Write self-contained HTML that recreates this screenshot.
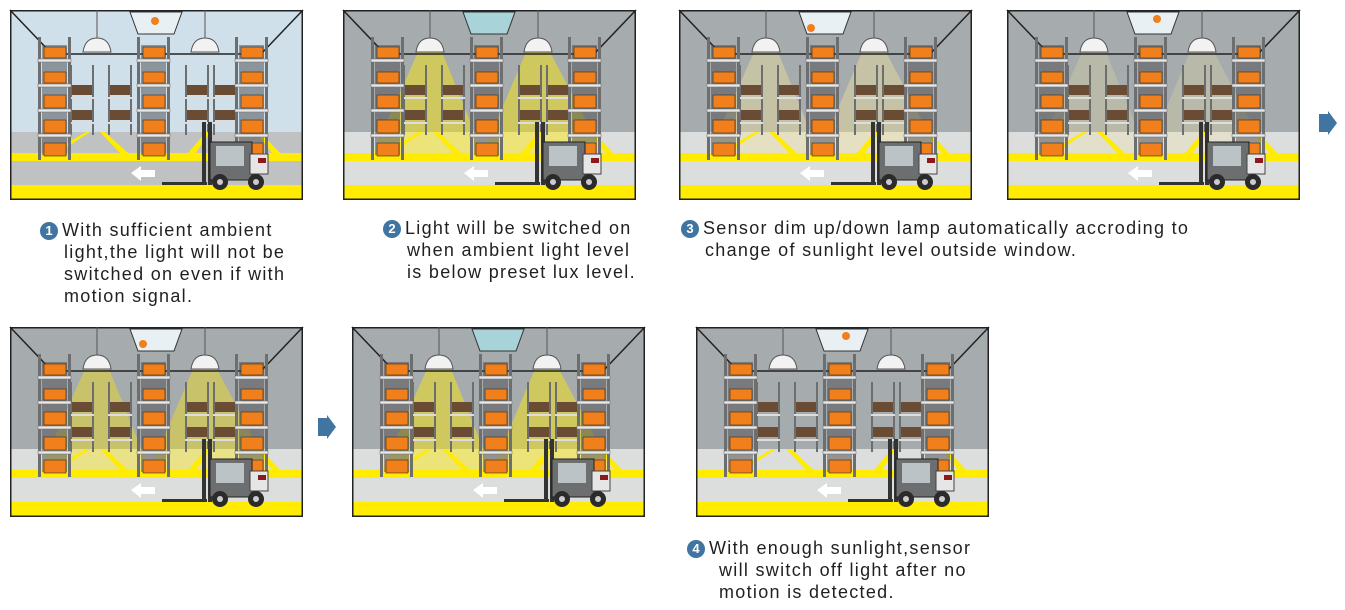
<!DOCTYPE html>
<html><head><meta charset="utf-8"><style>
body{margin:0;background:#fff;width:1345px;height:610px;overflow:hidden;position:relative;font-family:"Liberation Sans",Arial,sans-serif}
.t{position:absolute;font-size:18px;line-height:22px;color:#231f20;letter-spacing:1.3px}
.n{display:inline-block;width:18px;height:18px;border-radius:50%;background:#3f75a0;color:#fff;font-size:13px;line-height:18px;text-align:center;font-weight:bold;letter-spacing:0;margin-right:4px;vertical-align:1px}
svg{position:absolute;left:0;top:0}
</style></head><body>
<svg width="1345" height="610" viewBox="0 0 1345 610">
<defs>
<g id="rack">
 <rect x="0" y="0" width="3" height="123" fill="#6d6e70"/>
 <rect x="30" y="0" width="3" height="123" fill="#6d6e70"/>
 <rect x="4" y="8" width="25" height="110" fill="#4a4a4c" opacity="0.5"/>
 <g fill="#e8e8e8" stroke="#777" stroke-width="0.6">
  <rect x="0" y="22" width="33" height="3"/><rect x="0" y="47" width="33" height="3"/>
  <rect x="0" y="72" width="33" height="3"/><rect x="0" y="97" width="33" height="3"/>
 </g>
 <g fill="#f07f1c" stroke="#3a2a1a" stroke-width="0.6">
  <rect x="6" y="10" width="22" height="11"/><rect x="6" y="35" width="22" height="11"/>
  <rect x="6" y="58" width="22" height="13"/><rect x="6" y="83" width="22" height="13"/><rect x="6" y="106" width="22" height="13"/>
 </g>
</g>
<g id="brack">
 <rect x="0" y="0" width="2" height="70" fill="#6d6e70"/><rect x="22" y="0" width="2" height="70" fill="#6d6e70"/>
 <rect x="2" y="20" width="20" height="10" fill="#6a4c35"/><rect x="2" y="45" width="20" height="10" fill="#6a4c35"/>
 <rect x="0" y="32" width="24" height="2" fill="#ddd"/><rect x="0" y="57" width="24" height="2" fill="#ddd"/>
</g>
<g id="fork">
 <rect x="0" y="60" width="45" height="3" fill="#333"/>
 <rect x="40" y="0" width="4" height="63" fill="#333"/>
 <rect x="46" y="0" width="4" height="63" fill="#333"/>
 <rect x="48" y="20" width="42" height="38" fill="#6d6e70" stroke="#222"/>
 <rect x="54" y="24" width="28" height="20" fill="#bcc3c6"/>
 <rect x="88" y="32" width="18" height="20" fill="#e6e6e6" stroke="#444"/>
 <rect x="96" y="36" width="8" height="5" fill="#8b1a1a"/>
 <circle cx="58" cy="60" r="8" fill="#2b2b2b"/><circle cx="58" cy="60" r="3" fill="#ccc"/>
 <circle cx="94" cy="60" r="8" fill="#2b2b2b"/><circle cx="94" cy="60" r="3" fill="#ccc"/>
</g>
<g id="base">
 <polyline points="0,0 42,44 251,44 293,0" fill="none" stroke="#222" stroke-width="1.5"/>
 <use href="#brack" x="60" y="55"/><use href="#brack" x="98" y="55"/>
 <use href="#brack" x="175" y="55"/><use href="#brack" x="203" y="55"/>
 <rect x="0" y="143" width="293" height="8" fill="#ffec00"/>
 <rect x="0" y="175" width="293" height="15" fill="#ffec00"/>
 <polygon points="40,143 48,143 80,122 76,122" fill="#ffec00"/>
 <polygon points="110,143 118,143 95,122 90,122" fill="#ffec00"/>
 <polygon points="178,143 186,143 200,122 196,122" fill="#ffec00"/>
 <polygon points="262,143 270,143 250,122 246,122" fill="#ffec00"/>
 <use href="#rack" x="28" y="27"/><use href="#rack" x="127" y="27"/><use href="#rack" x="225" y="27"/>
 <polygon points="121,163 131,156 131,160 145,160 145,167 131,167 131,171" fill="#fff"/>
 <use href="#fork" x="152" y="112"/>
 <rect x="0.75" y="0.75" width="291.5" height="188.5" fill="none" stroke="#222" stroke-width="1.5"/>
 <line x1="87" y1="0" x2="87" y2="28" stroke="#555"/><line x1="195" y1="0" x2="195" y2="28" stroke="#555"/>
 <path d="M73,42 Q75,28 87,28 Q99,28 101,42Z" fill="#f2f2f2" stroke="#555"/>
 <path d="M181,42 Q183,28 195,28 Q207,28 209,42Z" fill="#f2f2f2" stroke="#555"/>
</g>
<g id="beams">
 <polygon points="75,42 99,42 140,143 30,143" fill="#ffec00" opacity="0.45"/>
 <polygon points="183,42 207,42 260,143 140,143" fill="#ffec00" opacity="0.45"/>
</g>
<g id="dbeams">
 <polygon points="75,42 99,42 140,143 30,143" fill="#f5e79a" opacity="0.4"/>
 <polygon points="183,42 207,42 260,143 140,143" fill="#f5e79a" opacity="0.4"/>
</g>
<polygon id="win" points="120,2 172,2 164,24 128,24" stroke="#333"/>
</defs>

<g transform="translate(10,10)">
 <rect width="293" height="190" fill="#cfe0ea"/><rect y="122" width="293" height="68" fill="#c0c1c3"/>
 <use href="#win" fill="#e8f0f4"/><circle cx="145" cy="11" r="4" fill="#f07f1c"/>
 <use href="#base"/>
</g>
<g transform="translate(343,10)">
 <rect width="293" height="190" fill="#a6abae"/><rect y="122" width="293" height="68" fill="#dcdddd"/>
 <use href="#beams"/>
 <use href="#win" fill="#a8d3d8"/>
 <use href="#base"/>
</g>
<g transform="translate(679,10)">
 <rect width="293" height="188" fill="#a6abae"/><rect y="122" width="293" height="68" fill="#dcdddd"/>
 <use href="#dbeams"/>
 <use href="#win" fill="#e8f0f4"/><circle cx="132" cy="18" r="4" fill="#f07f1c"/>
 <use href="#base"/>
</g>
<g transform="translate(1007,10)">
 <rect width="293" height="188" fill="#a6abae"/><rect y="122" width="293" height="68" fill="#dcdddd"/>
 <use href="#dbeams" opacity="0.6"/>
 <use href="#win" fill="#e8f0f4"/><circle cx="150" cy="9" r="4" fill="#f07f1c"/>
 <use href="#base"/>
</g>
<g transform="translate(10,327)">
 <rect width="293" height="190" fill="#a6abae"/><rect y="122" width="293" height="68" fill="#dcdddd"/>
 <use href="#beams" opacity="0.85"/>
 <use href="#win" fill="#e8f0f4"/><circle cx="133" cy="17" r="4" fill="#f07f1c"/>
 <use href="#base"/>
</g>
<g transform="translate(352,327)">
 <rect width="293" height="190" fill="#a6abae"/><rect y="122" width="293" height="68" fill="#dcdddd"/>
 <use href="#beams"/>
 <use href="#win" fill="#a8d3d8"/>
 <use href="#base"/>
</g>
<g transform="translate(696,327)">
 <rect width="293" height="190" fill="#a6abae"/><rect y="122" width="293" height="68" fill="#dcdddd"/>
 <use href="#win" fill="#e8f0f4"/><circle cx="150" cy="9" r="4" fill="#f07f1c"/>
 <use href="#base"/>
</g>
<polygon points="1319,114 1328,114 1328,111 1337,123 1328,135 1328,132 1319,132" fill="#3f75a0"/>
<polygon points="318,418 327,418 327,415 336,427 327,439 327,436 318,436" fill="#3f75a0"/>
</svg>
<div class="t" style="left:40px;top:219px;width:300px"><span class="n">1</span>With sufficient ambient<br><span style="padding-left:24px">light,the light will not be</span><br><span style="padding-left:24px">switched on even if with</span><br><span style="padding-left:24px">motion signal.</span></div>
<div class="t" style="left:383px;top:217px;width:300px"><span class="n">2</span>Light will be switched on<br><span style="padding-left:24px">when ambient light level</span><br><span style="padding-left:24px">is below preset lux level.</span></div>
<div class="t" style="left:681px;top:217px;width:620px"><span class="n">3</span>Sensor dim up/down lamp automatically accroding to<br><span style="padding-left:24px">change of sunlight level outside window.</span></div>
<div class="t" style="left:687px;top:537px;width:340px"><span class="n">4</span>With enough sunlight,sensor<br><span style="padding-left:32px">will switch off light after no</span><br><span style="padding-left:32px">motion is detected.</span></div>
</body></html>
